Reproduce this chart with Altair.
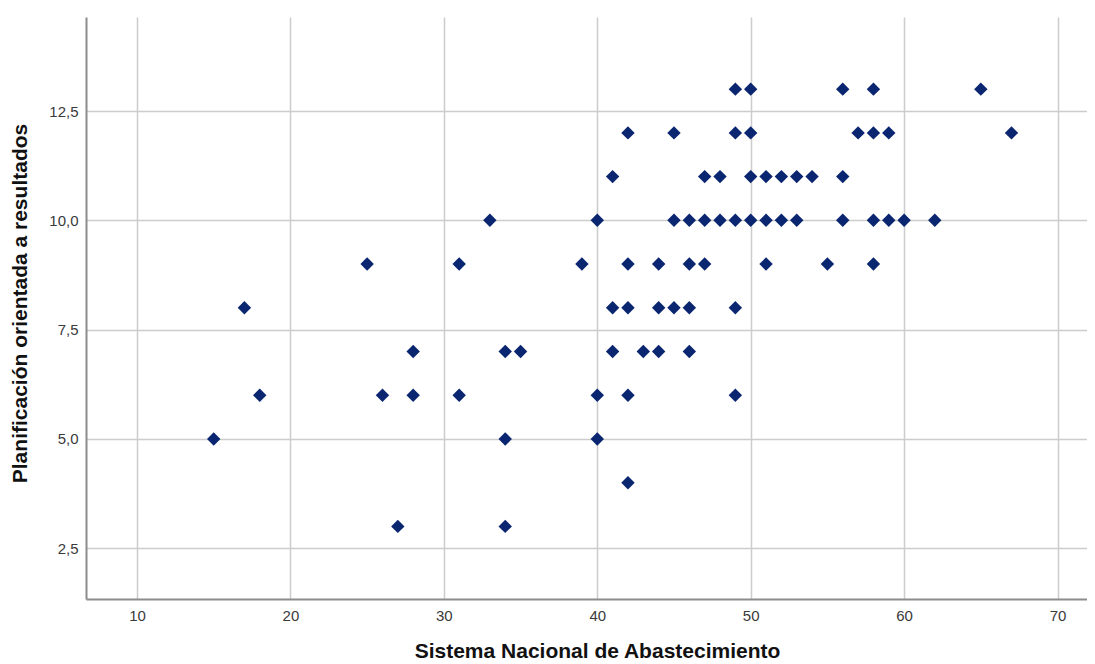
import altair as alt
import pandas as pd

# Sistema Nacional de Abastecimiento (x) vs Planificación orientada a resultados (y)
x_vals = [49, 50, 56, 58, 65,
          42, 45, 49, 50, 57, 58, 59, 67,
          41, 47, 48, 50, 51, 52, 53, 54, 56,
          33, 40, 45, 46, 47, 48, 49, 50, 51, 52, 53, 56, 58, 59, 60, 62,
          25, 31, 39, 42, 44, 46, 47, 51, 55, 58,
          17, 41, 42, 44, 45, 46, 49,
          28, 34, 35, 41, 43, 44, 46,
          18, 26, 28, 31, 40, 42, 49,
          15, 34, 40,
          42,
          27, 34]
y_vals = ([13] * 5 + [12] * 8 + [11] * 9 + [10] * 16 + [9] * 10 + [8] * 7
          + [7] * 7 + [6] * 7 + [5] * 3 + [4] * 1 + [3] * 2)

x_ticks = [10, 20, 30, 40, 50, 60, 70]
y_ticks = [2.5, 5.0, 7.5, 10.0, 12.5]

df = pd.DataFrame({"x": x_vals, "y": y_vals})

FONT = "Liberation Sans"

chart = alt.Chart(df).mark_point(
    shape="diamond", filled=True, color="#0b2670", opacity=1, size=180
).encode(
    x=alt.X("x:Q", scale=alt.Scale(domain=[6.676, 71.92], nice=False, zero=False),
            axis=alt.Axis(values=x_ticks, title="Sistema Nacional de Abastecimiento",
                          grid=True, ticks=False, labelPadding=9,
                          titleX=511, titleY=58, titleBaseline="alphabetic",
                          titleAnchor="start", titleAlign="center")),
    y=alt.Y("y:Q", scale=alt.Scale(domain=[1.34, 14.65], nice=False, zero=False),
            axis=alt.Axis(values=y_ticks, title="Planificación orientada a resultados",
                          labelExpr="replace(format(datum.value, '.1f'), '.', ',')",
                          grid=True, ticks=False, labelPadding=8,
                          titleX=-66, titleY=286, titleBaseline="middle",
                          titleAlign="center", titleAngle=-90)),
).properties(
    width=1001, height=582,
    autosize=alt.AutoSizeParams(type="none"),
    padding={"left": 78, "right": 0, "top": 9, "bottom": 64},
).configure_axis(
    labelFont=FONT, labelFontSize=15, labelColor="#3a3a3a",
    titleFont=FONT, titleFontSize=21, titleFontWeight="bold", titleColor="#111111",
    gridColor="#cccccc", gridWidth=1.5,
    domainColor="#8c8c8c", domainWidth=2,
).configure_view(stroke=None)

chart.save("out.html", embed_options={"renderer": "svg", "actions": False})
